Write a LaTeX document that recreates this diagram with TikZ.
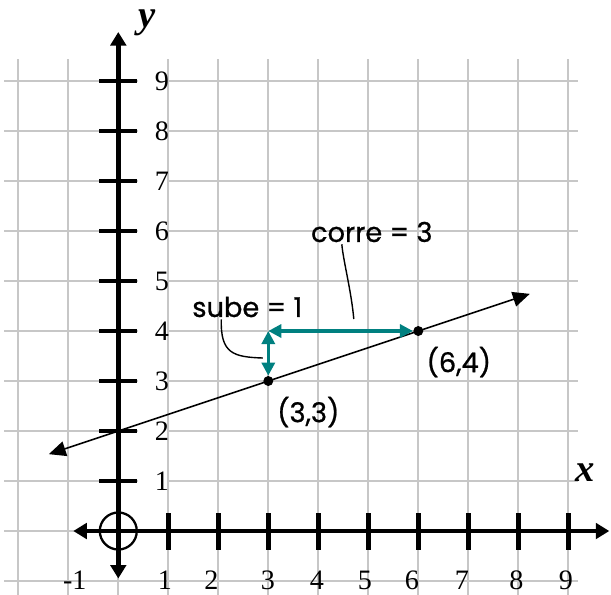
\documentclass[tikz,border=0pt]{standalone}
\usepackage{fontspec}
\setmainfont{Liberation Serif}
\newfontfamily\rotfont[FakeBold=0.8]{Poppins}
\usetikzlibrary{arrows.meta,positioning}
\definecolor{verdeazul}{RGB}{0,128,128}

\begin{document}
\begin{tikzpicture}[
  rej/.style={draw=black!22, line width=1.1pt},
  eje/.style={line width=2.8pt, {Triangle[length=2.7mm,width=3.1mm]}-{Triangle[length=2.7mm,width=3.1mm]}},
  marca/.style={line width=2.8pt},
  recta/.style={line width=0.9pt, {Triangle[length=3.4mm,width=3mm]}-{Triangle[length=3.4mm,width=3mm]}},
  pto/.style={circle, fill=black, inner sep=0pt, minimum size=2mm},
  paso/.style={draw=verdeazul, line width=1.8pt, {Triangle[length=2.6mm,width=2.6mm]}-{Triangle[length=2.6mm,width=2.6mm]}},
  num/.style={font=\fontsize{16}{16}\selectfont, inner sep=0pt},
  rot/.style={font=\rotfont\fontsize{15.5}{15.5}\selectfont, inner sep=1pt},
  guia/.style={line width=0.8pt}
]
\useasboundingbox (-2.366,-1.26) rectangle (9.854,10.62);

% cuadricula
\foreach \i in {-2,...,9}
  \draw[rej] (\i,-1.3) -- (\i,9.45);
\foreach \j in {-1,0}
  \draw[rej] (-2.28,\j) -- (9.19,\j);
\foreach \j in {1,...,9}{
  \draw[rej] (-2.28,\j) -- (0.4,\j);
  \draw[rej] (1,\j) -- (9.19,\j);
}

% ejes
\coordinate (ejeS) at (0,-0.95);
\coordinate (ejeN) at (0,9.98);
\coordinate (ejeO) at (-0.9,0);
\coordinate (ejeE) at (9.82,0);
\draw[eje] (ejeS) -- (ejeN);
\draw[eje] (ejeO) -- (ejeE);
\foreach \i in {1,...,9}{
  \draw[marca] (-0.38,\i) -- (0.38,\i);
  \draw[marca] (\i,-0.37) -- (\i,0.37);
  \node[num] (ny\i) at (0.87,\i) {\i};
}
\foreach \i/\p in {1/0.93,2/1.86,3/2.99,4/3.97,5/4.93,6/5.87,7/6.87,8/7.96,9/8.95}
  \node[num] (nx\i) at (\p,-0.98) {\i};
\node[num] (nxm) at (-0.87,-0.98) {-1};
\node[circle, draw, line width=1.3pt, minimum size=7.4mm, inner sep=0pt] (orig) at (0,0) {};
\node[font=\bfseries\itshape\fontsize{22}{22}\selectfont] (ly) at (0.57,10.16) {y};
\node[font=\bfseries\itshape\fontsize{22}{22}\selectfont] (lx) at (9.33,1.16) {x};

% recta y puntos
\coordinate (rIz) at (-1.39,1.537);
\coordinate (rDe) at (8.23,4.743);
\draw[recta] (rIz) -- (rDe);
\node[pto] (p33) at (3,3) {};
\node[pto] (p64) at (6,4) {};
\coordinate (esq) at (3,4);
\draw[paso] (p33) -- (esq);
\draw[paso] (esq) -- (p64);

% rotulos
\node[rot] (sube) at (2.58,4.48) {sube = 1};
\node[rot] (corre) at (5.07,5.98) {corre = 3};
\node[rot] (l33) at (3.8,2.38) {(3,3)};
\node[rot] (l64) at (6.81,3.38) {(6,4)};
\coordinate (fSube) at (2.89,3.46);
\coordinate (fCorre) at (4.71,4.24);
\draw[guia] ([xshift=-5.2mm]sube.south) .. controls (2.04,3.55) and (2.3,3.48) .. (fSube);
\draw[guia] ([xshift=-6mm]corre.south) .. controls (4.5,5.4) and (4.66,4.8) .. (fCorre);

\end{tikzpicture}
\end{document}
